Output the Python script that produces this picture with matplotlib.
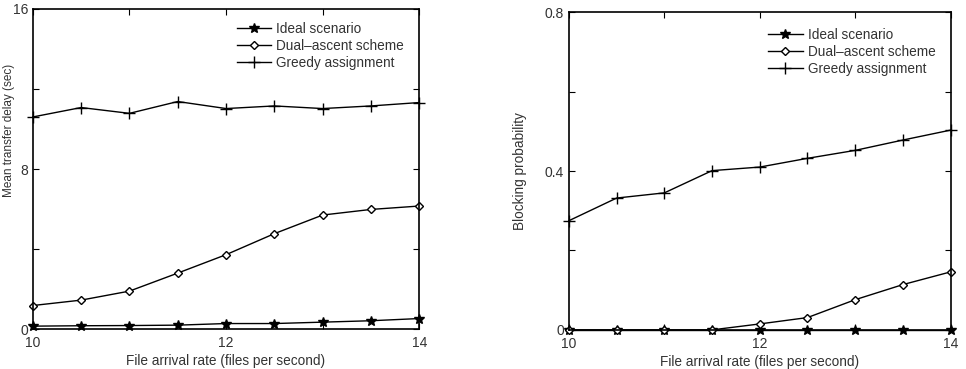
import matplotlib
matplotlib.use("Agg")
import matplotlib.pyplot as plt
import numpy as np

plt.rcParams['font.family'] = ['Liberation Sans', 'DejaVu Sans']

rate = [10, 10.5, 11, 11.5, 12, 12.5, 13, 13.5, 14]
labels = ['Ideal scenario', 'Dual\u2013ascent scheme', 'Greedy assignment']

# left panel: mean delay
delay_ideal = [0.15, 0.17, 0.18, 0.2, 0.28, 0.28, 0.35, 0.42, 0.53]
delay_dual = [1.18, 1.45, 1.9, 2.8, 3.72, 4.77, 5.7, 5.98, 6.15]
delay_greedy = [10.6, 11.07, 10.78, 11.37, 11.02, 11.15, 11.02, 11.15, 11.32]

# right panel: blocking probability
block_ideal = [0, 0, 0, 0, 0, 0, 0, 0, 0]
block_dual = [0, 0, 0, 0, 0.015, 0.031, 0.076, 0.114, 0.146]
block_greedy = [0.275, 0.332, 0.345, 0.401, 0.41, 0.432, 0.452, 0.478, 0.503]

txt = '#333333'
fig = plt.figure(figsize=(9.66, 3.69), dpi=100)
ax1 = fig.add_axes([0.034, 0.108, 0.400, 0.868])
ax2 = fig.add_axes([0.589, 0.106, 0.395, 0.861])

styles = [dict(marker='*', markersize=7.5),
          dict(marker='D', markersize=4.5, markerfacecolor='white', markeredgewidth=1.0),
          dict(marker='+', markersize=9, markeredgewidth=1.0)]


def draw(ax, series, ylim, yticks, yminor, ylabel, leg_pos):
    for ys, lab, st in zip(series, labels, styles):
        ax.plot(rate, ys, color='black', linewidth=1.0, label=lab, clip_on=False, **st)
    ax.set_xlim(10, 14)
    ax.set_ylim(*ylim)
    ax.set_xticks([10, 12, 14])
    ax.set_xticks([11, 13], minor=True)
    ax.set_yticks(yticks)
    ax.set_yticks(yminor, minor=True)
    ax.set_yticklabels([f'{t:g}' for t in yticks])
    ax.tick_params(which='both', direction='in', top=True, right=True,
                   labelsize=10, labelcolor=txt, length=4, width=0.8)
    ax.tick_params(axis='x', pad=5)
    ax.set_xlabel('File arrival rate (files per second)', fontsize=9.8, color=txt, labelpad=3)
    ax.set_ylabel(ylabel, fontsize=9.8, color=txt)
    for sp in ax.spines.values():
        sp.set_linewidth(1.2)
    ax.legend(loc='upper left', bbox_to_anchor=leg_pos, frameon=False, fontsize=9.8,
              handlelength=2.5, handletextpad=0.4, labelspacing=0.22, borderpad=0,
              labelcolor=txt)


draw(ax1, [delay_ideal, delay_dual, delay_greedy], (0, 16), [0, 8, 16], [4, 12],
     'Mean transfer delay (sec)', (0.51, 0.98))
draw(ax2, [block_ideal, block_dual, block_greedy], (0, 0.8), [0, 0.4, 0.8], [0.2, 0.6],
     'Blocking probability', (0.505, 0.972))
ax1.yaxis.label.set_fontsize(8.5)
ax1.yaxis.set_label_coords(-0.047, 0.62)
ax2.yaxis.set_label_coords(-0.11, 0.5)

fig.savefig('out.png', dpi=100)
